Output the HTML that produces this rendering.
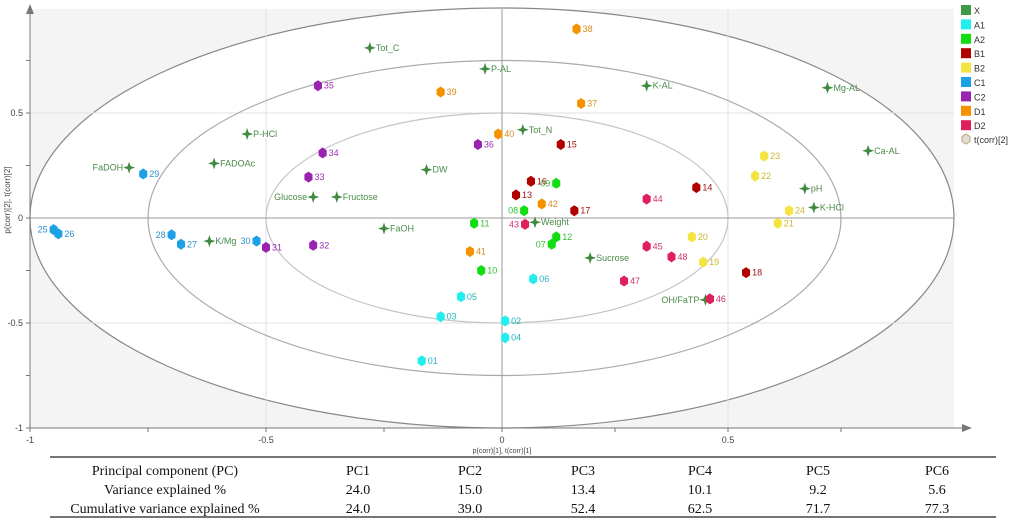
<!DOCTYPE html>
<html><head><meta charset="utf-8"><style>
body{margin:0;background:#fff;width:1024px;height:522px;overflow:hidden;font-family:"Liberation Sans",sans-serif}
svg{position:absolute;left:0;top:0}
</style></head><body>
<svg id="c" width="1024" height="522"></svg>
<script>
const varNames=["Tot_C","P-AL","P-HCl","FADOAc","FaDOH","DW","Glucose","Fructose","FaOH","K/Mg","Tot_N","K-AL","Mg-AL","Ca-AL","pH","K-HCl","Weight","Sucrose","OH/FaTP"];
const varX=[-0.28,-0.036,-0.54,-0.61,-0.79,-0.16,-0.40,-0.35,-0.25,-0.62,0.046,0.32,0.72,0.81,0.67,0.69,0.073,0.195,0.45];
const varY=[0.81,0.71,0.40,0.26,0.24,0.23,0.10,0.10,-0.05,-0.11,0.42,0.63,0.62,0.32,0.14,0.05,-0.02,-0.19,-0.39];
const varLeft=["FaDOH","Glucose","OH/FaTP"];
const sampleIds=["01","02","03","04","05","06","07","08","09","10","11","12","13","14","15","16","17","18","19","20","21","22","23","24","25","26","27","28","29","30","31","32","33","34","35","36","37","38","39","40","41","42","43","44","45","46","47","48"];
const sampleGroup=["A1","A1","A1","A1","A1","A1","A2","A2","A2","A2","A2","A2","B1","B1","B1","B1","B1","B1","B2","B2","B2","B2","B2","B2","C1","C1","C1","C1","C1","C1","C2","C2","C2","C2","C2","C2","D1","D1","D1","D1","D1","D1","D2","D2","D2","D2","D2","D2"];
const sampleX=[-0.17,0.007,-0.13,0.007,-0.087,0.069,0.11,0.049,0.12,-0.044,-0.059,0.12,0.031,0.43,0.13,0.064,0.16,0.54,0.445,0.42,0.61,0.56,0.58,0.635,-0.95,-0.94,-0.68,-0.70,-0.76,-0.52,-0.50,-0.40,-0.41,-0.38,-0.39,-0.051,0.175,0.165,-0.13,-0.008,-0.068,0.088,0.051,0.32,0.32,0.46,0.27,0.375];
const sampleY=[-0.68,-0.49,-0.47,-0.57,-0.375,-0.29,-0.125,0.035,0.165,-0.25,-0.025,-0.09,0.11,0.145,0.35,0.175,0.035,-0.26,-0.21,-0.09,-0.025,0.2,0.295,0.035,-0.055,-0.075,-0.125,-0.08,0.21,-0.11,-0.14,-0.13,0.195,0.31,0.63,0.35,0.545,0.90,0.60,0.40,-0.16,0.067,-0.03,0.09,-0.135,-0.385,-0.30,-0.185];
const sampleLeft=["25","28","30","43","08","07","09"];
const legendLabels=["X","A1","A2","B1","B2","C1","C2","D1","D2"];
const xTicks=[-1,-0.5,0,0.5];
const yTicks=[-1,-0.5,0,0.5];
const pcNames=["PC1","PC2","PC3","PC4","PC5","PC6"];
const pcVar=["24.0","15.0","13.4","10.1","9.2","5.6"];
const pcCum=["24.0","39.0","52.4","62.5","71.7","77.3"];
const colors={X:"#3f9a46",A1:"#22eeee",A2:"#11dd11",B1:"#b00000",B2:"#f5e440",C1:"#1ea0e6",C2:"#9a22b0",D1:"#f59200",D2:"#e0205a"};
const textCol={A1:"#22b5c0",A2:"#33c033",B1:"#a01515",B2:"#c8b830",C1:"#2a90d0",C2:"#9a30b0",D1:"#d88a20",D2:"#d03070"};
const X0=502,Y0=218;
function sx(v){return v<0?X0+v*472:X0+v*452;}
function sy(v){return Y0-v*210;}
const svg=document.getElementById('c');const NS="http://www.w3.org/2000/svg";
function mk(t,a,p){const e=document.createElementNS(NS,t);for(const k in a)e.setAttribute(k,a[k]);(p||svg).appendChild(e);return e;}
// background
let bg=mk('rect',{x:30,y:9,width:924,height:419,fill:'#f4f4f4'});


function ell(r,stroke,fill,name){const l=sx(-r),rr=sx(r),t=sy(r),b=sy(-r);
const e=mk('path',{d:`M${l},${Y0} A${X0-l},${Y0-t} 0 0 1 ${X0},${t} A${rr-X0},${Y0-t} 0 0 1 ${rr},${Y0} A${rr-X0},${b-Y0} 0 0 1 ${X0},${b} A${X0-l},${b-Y0} 0 0 1 ${l},${Y0}Z`,fill:fill,stroke:stroke,'stroke-width':1.2});

}
ell(1,'#888','#fff','ellipse-outer');
// grid
[-0.5,0.5].forEach(v=>{mk('line',{x1:sx(v),x2:sx(v),y1:9,y2:428,stroke:'#e2e2e2'});mk('line',{x1:30,x2:954,y1:sy(v),y2:sy(v),stroke:'#e2e2e2'});});
ell(0.75,'#aaa','none','ellipse-middle');
ell(0.5,'#c4c4c4','none','ellipse-inner');
mk('line',{x1:X0,x2:X0,y1:9,y2:428,stroke:'#999'});
mk('line',{x1:30,x2:954,y1:Y0,y2:Y0,stroke:'#999'});
// axes
mk('line',{x1:30,x2:965,y1:428,y2:428,stroke:'#777'});
mk('path',{d:'M972,428 L962,424 L962,432Z',fill:'#777'});
mk('line',{x1:30,x2:30,y1:12,y2:428,stroke:'#777'});
mk('path',{d:'M30,4 L26,14 L34,14Z',fill:'#777'});
[-1,-0.75,-0.5,-0.25,0,0.25,0.5,0.75].forEach(v=>{mk('line',{x1:sx(v),x2:sx(v),y1:428,y2:432,stroke:'#777'});});
[-1,-0.75,-0.5,-0.25,0,0.25,0.5,0.75].forEach(v=>{mk('line',{x1:26,x2:30,y1:sy(v),y2:sy(v),stroke:'#777'});});
xTicks.forEach(v=>{const t=mk('text',{x:sx(v),y:443,'font-size':9,fill:'#444','text-anchor':'middle'});t.textContent=String(v);

});
yTicks.forEach(v=>{const t=mk('text',{x:23,y:sy(v)+3,'font-size':9,fill:'#444','text-anchor':'end'});t.textContent=String(v);

});
let xl=mk('text',{x:X0,y:453,'font-size':7,fill:'#444','text-anchor':'middle'});xl.textContent='p(corr)[1], t(corr)[1]';


let yl=mk('text',{x:10,y:200,'font-size':8,fill:'#444','text-anchor':'middle',transform:'rotate(-90 10 200)'});yl.textContent='p(corr)[2], t(corr)[2]';


// variables
varNames.forEach((n,i)=>{const x=sx(varX[i]),y=sy(varY[i]);
const s=mk('path',{d:`M${x},${y-6} L${x+1.5},${y-1.5} L${x+6},${y} L${x+1.5},${y+1.5} L${x},${y+6} L${x-1.5},${y+1.5} L${x-6},${y} L${x-1.5},${y-1.5}Z`,fill:'#3f8a3f'});


const left=varLeft.includes(n);
const t=mk('text',{x:left?x-6:x+6,y:y+3,'font-size':9,fill:'#4a8a4a','text-anchor':left?'end':'start'});t.textContent=n;

});
// samples
sampleIds.forEach((id,i)=>{const g=sampleGroup[i];const x=sx(sampleX[i]),y=sy(sampleY[i]);const r=5.5;
let pts=[];for(let k=0;k<6;k++){const a=Math.PI/180*(60*k-90);pts.push((x+r*0.85*Math.cos(a)).toFixed(1)+','+(y+r*Math.sin(a)).toFixed(1));}
const h=mk('polygon',{points:pts.join(' '),fill:colors[g]});


const left=sampleLeft.includes(id);
const t=mk('text',{x:left?x-6:x+6,y:y+3,'font-size':9,fill:textCol[g],'text-anchor':left?'end':'start'});t.textContent=id;

});
// legend
legendLabels.forEach((l,i)=>{const y=5+i*14.4;
const r=mk('rect',{x:961,y:y,width:10,height:10,fill:colors[l]});


const t=mk('text',{x:974,y:y+9,'font-size':9,fill:'#333'});t.textContent=l;

});
let lh=mk('polygon',{points:'966,134 970,136.5 970,141.5 966,144 962,141.5 962,136.5',fill:'#ddd',stroke:'#c8a060'});


let lt=mk('text',{x:974,y:143,'font-size':9,fill:'#333'});lt.textContent='t(corr)[2]';


// table
const tb=mk('g',{'font-family':'"Liberation Serif",serif','font-size':14,fill:'#111'});


mk('line',{x1:50,x2:996,y1:457,y2:457,stroke:'#222','stroke-width':1.3},tb);
mk('line',{x1:50,x2:996,y1:517,y2:517,stroke:'#222','stroke-width':1.3},tb);
const rows=[["Principal component (PC)",pcNames],["Variance explained %",pcVar],["Cumulative variance explained %",pcCum]];
const cx=[358,470,583,700,818,937];
rows.forEach((r,ri)=>{const y=475+ri*19;
const t=mk('text',{x:165,y:y,'text-anchor':'middle'},tb);t.textContent=r[0];


r[1].forEach((v,j)=>{const c=mk('text',{x:cx[j],y:y,'text-anchor':'middle'},tb);c.textContent=v;

});});
</script>
</body></html>
